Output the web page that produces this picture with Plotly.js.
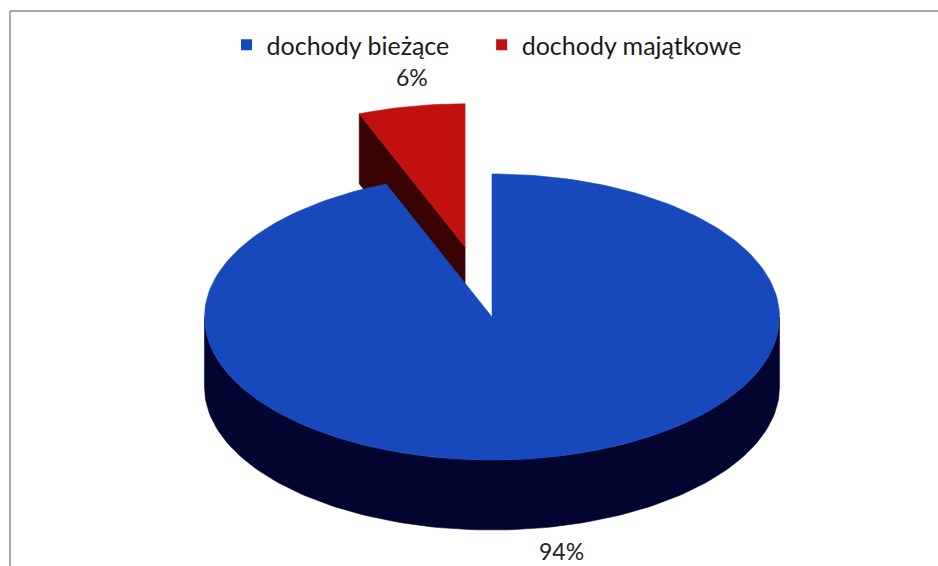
<!DOCTYPE html>
<html>
<head>
<meta charset="utf-8">
<script src="https://cdn.plot.ly/plotly-3.0.1.min.js"></script>
<style>html,body{margin:0;padding:0;background:#fff;}#chart{width:938px;height:566px;}</style>
</head>
<body>
<div id="chart"></div>
<script>
// ---- data ----
const categories = ['dochody bieżące', 'dochody majątkowe'];
const values = [94, 6];
const pctLabels = ['94%', '6%'];
const explode = [0, 0.5];
const topColors = ['#1749bd', '#c2100f'];
const sideColors = ['#020530', '#3a0303'];

// ---- 3D pie geometry (pixel space on hidden axes) ----
const W = 938, H = 566;
const cx = 492, cy = 317, rx = 287.5, ry = 143, depth = 70;
const total = values.reduce((a, b) => a + b, 0);

function pt(a, ox, oy, dz) {
  const r = a * Math.PI / 180;
  return [cx + ox + rx * Math.sin(r), cy + oy - ry * Math.cos(r) + dz];
}
function arc(a0, a1, ox, oy, dz) {
  const n = Math.max(2, Math.ceil(Math.abs(a1 - a0) / 1.5));
  const xs = [], ys = [];
  for (let i = 0; i <= n; i++) {
    const p = pt(a0 + (a1 - a0) * i / n, ox, oy, dz);
    xs.push(p[0]); ys.push(p[1]);
  }
  return [xs, ys];
}
function poly(xs, ys, color) {
  return {x: xs.concat([xs[0]]), y: ys.concat([ys[0]]), mode: 'lines', fill: 'toself',
    fillcolor: color, line: {color: color, width: 0.6}, hoverinfo: 'skip', showlegend: false};
}

const slices = [];
let acc = 0;
values.forEach((v, i) => {
  const a0 = acc / total * 360, a1 = (acc + v) / total * 360;
  acc += v;
  const mid = (a0 + a1) / 2, mr = mid * Math.PI / 180;
  const ox = explode[i] * rx * Math.sin(mr), oy = -explode[i] * ry * Math.cos(mr);
  slices.push({i, a0, a1, ox, oy});
});

const parts = {};
slices.forEach(s => {
  const apx = cx + s.ox, apy = cy + s.oy;
  const list = [];
  // cut face at start angle (visible if it faces the viewer)
  const nStart = (s.a0 - 90) * Math.PI / 180;
  if (-Math.cos(nStart) > 0.05) {
    const p = pt(s.a0, s.ox, s.oy, 0);
    list.push(poly([apx, p[0], p[0], apx], [apy, p[1], p[1] + depth, apy + depth], sideColors[s.i]));
  }
  const nEnd = (s.a1 + 90) * Math.PI / 180;
  if (-Math.cos(nEnd) > 0.05) {
    const p = pt(s.a1, s.ox, s.oy, 0);
    list.push(poly([apx, p[0], p[0], apx], [apy, p[1], p[1] + depth, apy + depth], sideColors[s.i]));
  }
  // outer rim, front half (90..270 degrees)
  const r0 = Math.max(s.a0, 90), r1 = Math.min(s.a1, 270);
  if (r1 > r0) {
    const t = arc(r0, r1, s.ox, s.oy, 0), b = arc(r1, r0, s.ox, s.oy, depth);
    list.push(poly(t[0].concat(b[0]), t[1].concat(b[1]), sideColors[s.i]));
  }
  const t = arc(s.a0, s.a1, s.ox, s.oy, 0);
  list.push(poly([apx].concat(t[0]), [apy].concat(t[1]), topColors[s.i]));
  parts[s.i] = {oy: s.oy, list};
});

// exploded (rear) slice first, then the main slice
const traces = [];
Object.keys(parts).map(Number).sort((a, b) => parts[a].oy - parts[b].oy)
  .forEach(k => parts[k].list.forEach(tr => traces.push(tr)));

// legend entries (one legend box per entry for exact spacing)
const legendIds = ['legend', 'legend2'];
categories.forEach((c, i) => {
  traces.push({x: [null], y: [null], type: 'scatter', mode: 'markers', name: c,
    legend: legendIds[i],
    marker: {symbol: 'square', size: 11, color: topColors[i]}, showlegend: true});
});

const FONT = 'Lato, "Open Sans", sans-serif';
const legendBase = {orientation: 'h', xanchor: 'left', y: 1 - 45 / H, yanchor: 'middle',
  font: {family: FONT, size: 25, color: '#1a1a1a'}, itemwidth: 30, bgcolor: 'rgba(0,0,0,0)'};
const layout = {
  width: W, height: H,
  margin: {l: 0, r: 0, t: 0, b: 0},
  paper_bgcolor: '#ffffff', plot_bgcolor: '#ffffff',
  xaxis: {range: [0, W], visible: false, fixedrange: true},
  yaxis: {range: [H, 0], visible: false, fixedrange: true},
  showlegend: true,
  legend: Object.assign({}, legendBase, {x: 0.2415}),
  legend2: Object.assign({}, legendBase, {x: 0.5135}),
  annotations: [
    {x: 412, y: 77, xref: 'x', yref: 'y', text: pctLabels[1], showarrow: false,
      font: {family: FONT, size: 23, color: '#222'}},
    {x: 561, y: 551, xref: 'x', yref: 'y', text: pctLabels[0], showarrow: false,
      font: {family: FONT, size: 23, color: '#222'}}
  ],
  shapes: [
    {type: 'line', xref: 'paper', yref: 'paper', x0: 10 / W, x1: 1, y0: 1 - 11 / H, y1: 1 - 11 / H, line: {color: '#8a8a8a', width: 1.5}},
    {type: 'line', xref: 'paper', yref: 'paper', x0: 10 / W, x1: 10 / W, y0: 0, y1: 1 - 11 / H, line: {color: '#8a8a8a', width: 1.5}}
  ]
};

Plotly.newPlot('chart', traces, layout, {displayModeBar: false, staticPlot: true});
</script>
</body>
</html>
